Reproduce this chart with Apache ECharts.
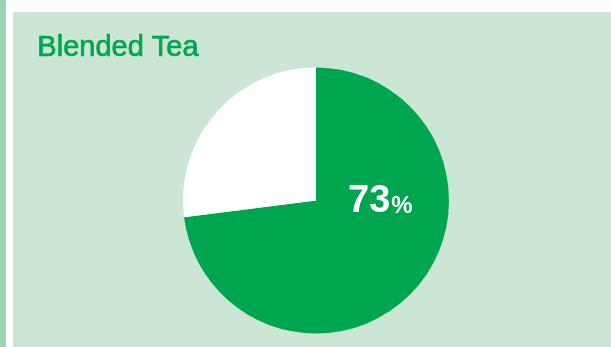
<!DOCTYPE html>
<html><head><meta charset="utf-8">
<script src="https://cdn.jsdelivr.net/npm/echarts@6/dist/echarts.min.js"></script>
<style>html,body{margin:0;padding:0;background:#fff}#c{width:611px;height:347px}</style>
</head><body><div id="c"></div>
<script>
const title = 'Blended Tea';
const categories = ['Blended', 'Other'];
const values = [73, 27];
const colors = ['#00a54f', '#ffffff'];

const chart = echarts.init(document.getElementById('c'), null, {renderer: 'canvas'});
chart.setOption({
  animation: false,
  graphic: [
    {type: 'rect', shape: {x: 0, y: 0, width: 6, height: 347}, style: {fill: '#9dd4b0'}, silent: true, z: -10},
    {type: 'rect', shape: {x: 13, y: 12, width: 598, height: 335}, style: {fill: '#cce6d5'}, silent: true, z: -10},
    {type: 'text', left: 37, top: 33, style: {text: title, fill: '#00a54f', stroke: '#00a54f', lineWidth: 0.7, font: '29px "Liberation Sans", Arial, sans-serif'}},
    {type: 'text', left: 348, top: 183, style: {
      text: '{a|' + values[0] + '}{b|%}', fill: '#fff',
      rich: {
        a: {fontSize: 38, fontWeight: 'bold', fontFamily: '"Liberation Sans", Arial, sans-serif', fill: '#fff', verticalAlign: 'bottom'},
        b: {fontSize: 24, fontWeight: 'bold', fontFamily: '"Liberation Sans", Arial, sans-serif', fill: '#fff', verticalAlign: 'bottom', padding: [0,0,3,1]}
      }
    }, z: 100}
  ],
  series: [{
    type: 'pie',
    center: [316, 200.5],
    radius: [0, 133],
    startAngle: 90,
    clockwise: true,
    label: {show: false},
    labelLine: {show: false},
    silent: true,
    data: categories.map((n, i) => ({name: n, value: values[i], itemStyle: {color: colors[i]}}))
  }]
});
</script></body></html>
